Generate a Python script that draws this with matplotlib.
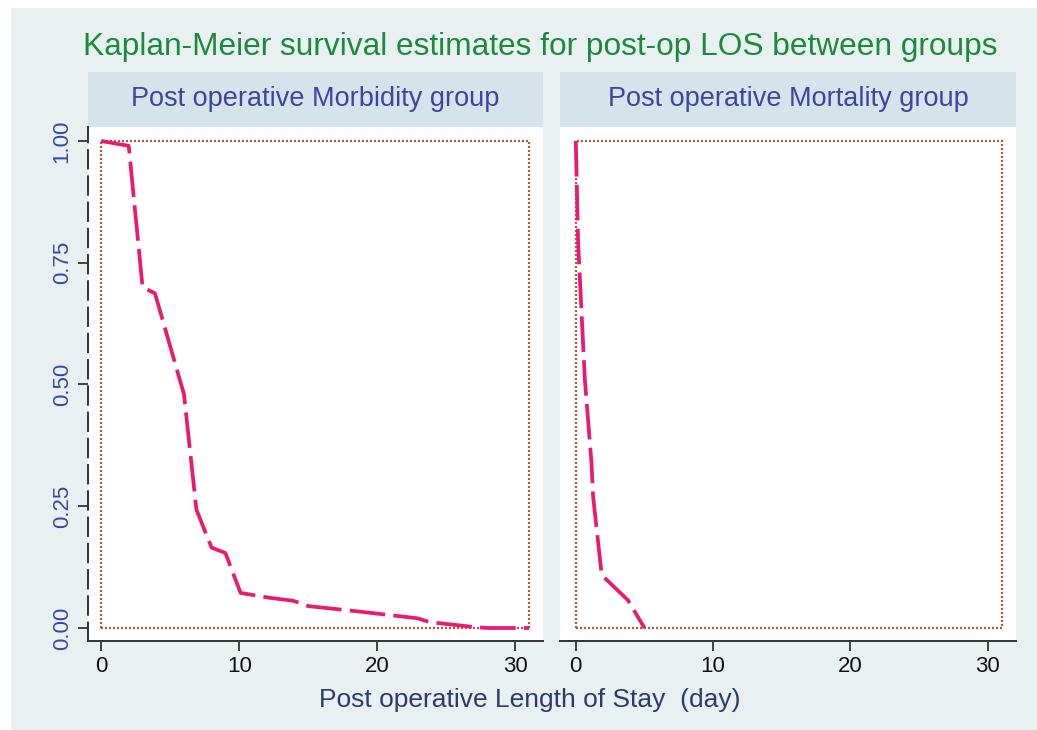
import matplotlib.pyplot as plt
from matplotlib.patches import Rectangle

# Kaplan-Meier curves
morb_days = [0, 2, 3, 3.9, 6, 6.9, 8, 9, 10.1, 12.2, 13.9, 15, 18.3, 22.9, 23.8, 27, 28, 31]
morb_surv = [1.0, 0.99, 0.70, 0.687, 0.48, 0.243, 0.165, 0.154, 0.072, 0.062, 0.056,
             0.045, 0.035, 0.02, 0.012, 0.002, 0.0, 0.0]
mort_days = [0, 0.17, 0.66, 1.14, 1.26, 1.87, 2.1, 3.8, 5.0]
mort_surv = [1.0, 0.79, 0.51, 0.34, 0.27, 0.113, 0.103, 0.057, 0.0]

panels = ['Post operative Morbidity group', 'Post operative Mortality group']
xticks = [0, 10, 20, 30]
yticks = [0, 0.25, 0.5, 0.75, 1.0]
ytick_labels = ['0.00', '0.25', '0.50', '0.75', '1.00']
title = 'Kaplan-Meier survival estimates for post-op LOS between groups'
xlabel = 'Post operative Length of Stay  (day)'

plt.rcParams['font.family'] = ['Liberation Sans', 'DejaVu Sans']

W, H = 1037, 730
fig = plt.figure(figsize=(W / 100, H / 100), dpi=100)
fig.patch.set_facecolor('white')
fig.patches.append(Rectangle((11 / W, 0), 1, 1 - 8 / H, transform=fig.transFigure,
                             facecolor='#e8f0f2', edgecolor='none', zorder=-10))


def box(x0, x1, y0, y1):
    # pixel box -> figure fraction
    return [x0 / W, 1 - y1 / H, (x1 - x0) / W, (y1 - y0) / H]


pink = '#ea1a73'
brown = '#b0582e'
blue = '#3b46a3'

specs = [
    (88, 543, (-0.95, 32.0), morb_days, morb_surv, panels[0]),
    (560, 1016, (-1.15, 32.05), mort_days, mort_surv, panels[1]),
]

for i, (x0, x1, xl, xd, yd, name) in enumerate(specs):
    strip = fig.add_axes(box(x0, x1, 72, 127))
    strip.set_facecolor('#d6e3ea')
    strip.set_xticks([])
    strip.set_yticks([])
    for s in strip.spines.values():
        s.set_visible(False)
    strip.text(0.5, 0.5, name, ha='center', va='center', color=blue, fontsize=19.5,
               transform=strip.transAxes)

    ax = fig.add_axes(box(x0, x1, 127, 641))
    ax.set_facecolor('white')
    ax.set_xlim(*xl)
    ax.set_ylim(-0.0267, 1.0287)
    ax.add_patch(Rectangle((0, 0), 31, 1, fill=False, edgecolor=brown, lw=1.6,
                           linestyle=(0, (0.9, 0.9))))
    ax.plot(xd, yd, color=pink, lw=2.7, linestyle=(0, (9.5, 2.2)), solid_capstyle='butt')

    ax.spines['top'].set_visible(False)
    ax.spines['right'].set_visible(False)
    ax.spines['bottom'].set_color('#333333')
    ax.spines['bottom'].set_linewidth(1.4)
    ax.set_xticks(xticks)
    ax.tick_params(axis='x', length=7, width=1.3, color='#333333', pad=4,
                   labelsize=16, labelcolor='#111111')
    if i == 0:
        ax.spines['left'].set_color('#333333')
        ax.spines['left'].set_linewidth(1.4)
        ax.spines['left'].set_linestyle((0, (9.5, 4)))
        ax.set_yticks(yticks)
        ax.set_yticklabels(ytick_labels, rotation=90, va='center')
        ax.tick_params(axis='y', length=7, width=1.3, color='#333333', pad=4,
                       labelsize=16, labelcolor=blue)
    else:
        ax.spines['left'].set_visible(False)
        ax.set_yticks([])

fig.text(540 / W, 1 - 47 / H, title, ha='center', va='center', color='#1d8a3b', fontsize=22.8)
fig.text(530 / W, 1 - 700 / H, xlabel, ha='center', va='center', color='#2c3a72', fontsize=19)

fig.savefig('out.png', dpi=100)
